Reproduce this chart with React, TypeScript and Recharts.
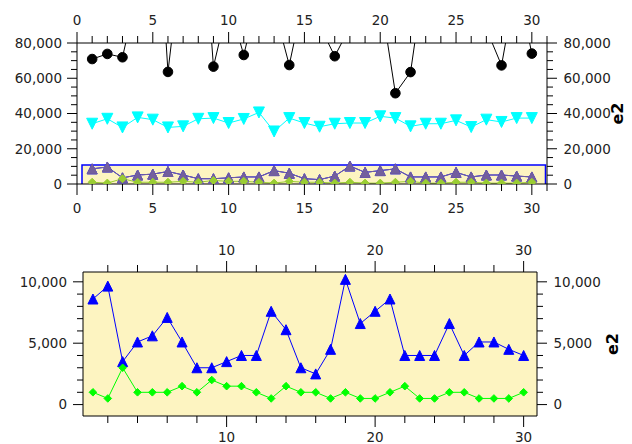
import { CartesianGrid, Line, LineChart, ReferenceArea, XAxis, YAxis } from "recharts";

const xValues = [1, 2, 3, 4, 5, 6, 7, 8, 9, 10, 11, 12, 13, 14, 15, 16, 17, 18, 19, 20, 21, 22, 23, 24, 25, 26, 27, 28, 29, 30];

// black circles, many go off the top of the main panel
const blackValues = [
  70900, 73800, 71900, 110000, 200000, 63600, 137000, 185000, 66600, 103000, 73200, 109000, 100000, 67500, 108000,
  90000, 72500, 89000, 95000, 107000, 51500, 63500, 123000, 100000, 100000, 95000, 88000, 67300, 115000, 74000,
];
const cyanValues = [
  34200, 37000, 32100, 37800, 36500, 32100, 32700, 37000, 37400, 34600, 36900, 40600, 29800, 37400, 34600,
  32500, 34200, 34600, 34600, 38400, 37400, 32700, 34200, 34200, 36100, 32300, 36500, 35200, 37400, 37400,
];
const blueValues = [
  8600, 9650, 3500, 5100, 5600, 7100, 5100, 3000, 3000, 3500, 4000, 4000, 7600, 6100, 3000,
  2500, 4500, 10200, 6600, 7600, 8600, 4000, 4000, 4000, 6600, 4000, 5100, 5100, 4500, 4000,
];
const greenValues = [
  1000, 500, 3000, 1000, 1000, 1000, 1500, 1000, 2000, 1500, 1500, 1000, 500, 1500, 1000,
  1000, 500, 1000, 500, 500, 1000, 1500, 500, 500, 1000, 1000, 500, 500, 500, 1000,
];

const mainXDomain = [0, 31];
const mainYDomain = [0, 80000];
const zoomXDomain = [0.33, 30.9];
const zoomYDomain = [-930, 10800];

const mainXTicks = [0, 1, 2, 3, 4, 5, 6, 7, 8, 9, 10, 11, 12, 13, 14, 15, 16, 17, 18, 19, 20, 21, 22, 23, 24, 25, 26, 27, 28, 29, 30, 31];
const mainXLabels = [0, 5, 10, 15, 20, 25, 30];
const mainYTicks = [0, 5000, 10000, 15000, 20000, 25000, 30000, 35000, 40000, 45000, 50000, 55000, 60000, 65000, 70000, 75000, 80000];
const mainYLabels = [0, 20000, 40000, 60000, 80000];
const zoomXTicks = [2, 4, 6, 8, 10, 12, 14, 16, 18, 20, 22, 24, 26, 28, 30];
const zoomXLabels = [10, 20, 30];
const zoomYTicks = [0, 1000, 2000, 3000, 4000, 5000, 6000, 7000, 8000, 9000, 10000];
const zoomYLabels = [0, 5000, 10000];

const rows = xValues.map((x, i) => ({
  x,
  black: blackValues[i],
  cyan: cyanValues[i],
  blue: blueValues[i],
  green: greenValues[i],
}));

const FONT = "DejaVu Sans";
const PANEL_FILL = "#fdf4c1";

type Side = "left" | "right" | "top" | "bottom";

function AxisTick(props: any) {
  const { x, y, payload, side, labels, gap } = props as {
    x: number;
    y: number;
    payload: { value: number };
    side: Side;
    labels: number[];
    gap: number;
  };
  const v = payload.value;
  const major = labels.includes(v);
  const len = major ? 10 : 6;
  const txt = major ? v.toLocaleString("en-US") : "";
  const common = { fontFamily: FONT, fontSize: 13.5, fill: "#222" };
  if (side === "left") {
    return (
      <g>
        <line x1={x} x2={x - len} y1={y} y2={y} stroke="#000" />
        <text x={x - gap} y={y} dy="0.36em" textAnchor="end" {...common}>{txt}</text>
      </g>
    );
  }
  if (side === "right") {
    return (
      <g>
        <line x1={x} x2={x + len} y1={y} y2={y} stroke="#000" />
        <text x={x + gap} y={y} dy="0.36em" textAnchor="start" {...common}>{txt}</text>
      </g>
    );
  }
  if (side === "top") {
    return (
      <g>
        <line x1={x} x2={x} y1={y} y2={y - len - 1} stroke="#000" />
        <text x={x} y={y - gap} textAnchor="middle" {...common}>{txt}</text>
      </g>
    );
  }
  return (
    <g>
      <line x1={x} x2={x} y1={y} y2={y + len + 1} stroke="#000" />
      <text x={x} y={y + gap} textAnchor="middle" {...common}>{txt}</text>
    </g>
  );
}

function tickFor(side: Side, labels: number[], gap: number) {
  return (p: any) => <AxisTick {...p} side={side} labels={labels} gap={gap} />;
}

function axisTitle(dx: number) {
  return (p: any) => {
    const vb = p.viewBox || { x: 0, y: 0, width: 0, height: 0 };
    const cx = vb.x + dx;
    const cy = vb.y + vb.height / 2;
    return (
      <text
        x={cx}
        y={cy}
        transform={`rotate(-90 ${cx} ${cy})`}
        textAnchor="middle"
        dy="0.36em"
        fontFamily={FONT}
        fontSize={16}
        fontWeight="bold"
        fill="#000"
      >
        e2
      </text>
    );
  };
}

function Circle(p: any) {
  if (p.cx == null || p.cy == null) return null;
  return <circle cx={p.cx} cy={p.cy} r={4.8} fill="#000" stroke="#000" />;
}

function TriUp(p: any) {
  if (p.cx == null || p.cy == null) return null;
  const s = p.s ?? 5;
  const d = `M${p.cx - s},${p.cy + s}L${p.cx},${p.cy - s}L${p.cx + s},${p.cy + s}Z`;
  return <path d={d} fill={p.color} stroke={p.color} />;
}

function TriDown(p: any) {
  if (p.cx == null || p.cy == null) return null;
  const s = p.s ?? 5;
  const d = `M${p.cx - s},${p.cy - s}L${p.cx + s},${p.cy - s}L${p.cx},${p.cy + s}Z`;
  return <path d={d} fill={p.color} stroke={p.color} />;
}

function Diamond(p: any) {
  if (p.cx == null || p.cy == null) return null;
  const s = p.s ?? 4;
  const d = `M${p.cx},${p.cy - s}L${p.cx + s},${p.cy}L${p.cx},${p.cy + s}L${p.cx - s},${p.cy}Z`;
  return <path d={d} fill={p.color} stroke={p.color} />;
}

function MainPanel() {
  return (
    <LineChart width={632} height={225} data={rows} margin={{ top: 0, right: 0, bottom: 0, left: 0 }}>
      <XAxis
        xAxisId="bottom"
        dataKey="x"
        type="number"
        orientation="bottom"
        domain={mainXDomain}
        allowDataOverflow
        ticks={mainXTicks}
        interval={0}
        height={41}
        tickSize={0}
        tickMargin={0}
        tickLine={false}
        axisLine={{ stroke: "#000" }}
        tick={tickFor("bottom", mainXLabels, 29)}
      />
      <XAxis
        xAxisId="top"
        dataKey="x"
        type="number"
        orientation="top"
        domain={mainXDomain}
        allowDataOverflow
        ticks={mainXTicks}
        interval={0}
        height={43}
        tickSize={0}
        tickMargin={0}
        tickLine={false}
        axisLine={{ stroke: "#000" }}
        tick={tickFor("top", mainXLabels, 18)}
      />
      <YAxis
        yAxisId="left"
        orientation="left"
        type="number"
        domain={mainYDomain}
        allowDataOverflow
        ticks={mainYTicks}
        interval={0}
        width={77}
        tickSize={0}
        tickMargin={0}
        tickLine={false}
        axisLine={{ stroke: "#000" }}
        tick={tickFor("left", mainYLabels, 15)}
      />
      <YAxis
        yAxisId="right"
        orientation="right"
        type="number"
        domain={mainYDomain}
        allowDataOverflow
        ticks={mainYTicks}
        interval={0}
        width={85}
        tickSize={0}
        tickMargin={0}
        tickLine={false}
        axisLine={{ stroke: "#000" }}
        tick={tickFor("right", mainYLabels, 16.5)}
        label={axisTitle(70)}
      />
      <Line
        xAxisId="bottom"
        yAxisId="left"
        dataKey="black"
        stroke="#000"
        strokeWidth={1}
        dot={(p: any) => <Circle key={p.index} {...p} />}
        activeDot={false}
        isAnimationActive={false}
      />
      <Line
        xAxisId="bottom"
        yAxisId="left"
        dataKey="cyan"
        stroke="#00ffff"
        strokeWidth={1}
        dot={(p: any) => <TriDown key={p.index} {...p} color="#00ffff" s={5.5} />}
        activeDot={false}
        isAnimationActive={false}
      />
      <Line
        xAxisId="bottom"
        yAxisId="left"
        dataKey="blue"
        stroke="#0000ff"
        strokeWidth={1}
        dot={(p: any) => <TriUp key={p.index} {...p} color="#0000ff" s={5} />}
        activeDot={false}
        isAnimationActive={false}
      />
      <ReferenceArea
        xAxisId="bottom"
        yAxisId="left"
        x1={zoomXDomain[0]}
        x2={zoomXDomain[1]}
        y1={zoomYDomain[0]}
        y2={zoomYDomain[1]}
        ifOverflow="hidden"
        fill={PANEL_FILL}
        fillOpacity={1}
        stroke="#0000ff"
        strokeWidth={1.5}
      />
      <Line
        xAxisId="bottom"
        yAxisId="left"
        dataKey="blue"
        stroke="#735f9d"
        strokeWidth={1}
        dot={(p: any) => <TriUp key={p.index} {...p} color="#735f9d" s={5} />}
        activeDot={false}
        isAnimationActive={false}
      />
      <Line
        xAxisId="bottom"
        yAxisId="left"
        dataKey="green"
        stroke="#9acd32"
        strokeWidth={1}
        dot={(p: any) => <Diamond key={p.index} {...p} color="#9acd32" s={4} />}
        activeDot={false}
        isAnimationActive={false}
      />
    </LineChart>
  );
}

function ZoomPanel() {
  return (
    <LineChart width={632} height={219} data={rows} margin={{ top: 0, right: 0, bottom: 0, left: 0 }}>
      <CartesianGrid xAxisId="bottom" yAxisId="left" horizontal={false} vertical={false} fill={PANEL_FILL} />
      <XAxis
        xAxisId="bottom"
        dataKey="x"
        type="number"
        orientation="bottom"
        domain={zoomXDomain}
        allowDataOverflow
        ticks={zoomXTicks}
        interval={0}
        height={28}
        tickSize={0}
        tickMargin={0}
        tickLine={false}
        axisLine={{ stroke: "#000" }}
        tick={tickFor("bottom", zoomXLabels, 25.5)}
      />
      <XAxis
        xAxisId="top"
        dataKey="x"
        type="number"
        orientation="top"
        domain={zoomXDomain}
        allowDataOverflow
        ticks={zoomXTicks}
        interval={0}
        height={47}
        tickSize={0}
        tickMargin={0}
        tickLine={false}
        axisLine={{ stroke: "#000" }}
        tick={tickFor("top", zoomXLabels, 17.5)}
      />
      <YAxis
        yAxisId="left"
        orientation="left"
        type="number"
        domain={zoomYDomain}
        allowDataOverflow
        ticks={zoomYTicks}
        interval={0}
        width={83}
        tickSize={0}
        tickMargin={0}
        tickLine={false}
        axisLine={{ stroke: "#000" }}
        tick={tickFor("left", zoomYLabels, 16)}
      />
      <YAxis
        yAxisId="right"
        orientation="right"
        type="number"
        domain={zoomYDomain}
        allowDataOverflow
        ticks={zoomYTicks}
        interval={0}
        width={95}
        tickSize={0}
        tickMargin={0}
        tickLine={false}
        axisLine={{ stroke: "#000" }}
        tick={tickFor("right", zoomYLabels, 16.5)}
        label={axisTitle(75)}
      />
      <Line
        xAxisId="bottom"
        yAxisId="left"
        dataKey="blue"
        stroke="#0000ff"
        strokeWidth={1}
        dot={(p: any) => <TriUp key={p.index} {...p} color="#0000ff" s={5} />}
        activeDot={false}
        isAnimationActive={false}
      />
      <Line
        xAxisId="bottom"
        yAxisId="left"
        dataKey="green"
        stroke="#00ff00"
        strokeWidth={1}
        dot={(p: any) => <Diamond key={p.index} {...p} color="#00ff00" s={3.8} />}
        activeDot={false}
        isAnimationActive={false}
      />
    </LineChart>
  );
}

export default function App() {
  return (
    <div style={{ position: "absolute", left: 0, top: 0, width: 632, height: 444, background: "#fff", fontFamily: FONT }}>
      <div style={{ position: "absolute", left: 0, top: 0 }}>
        <MainPanel />
      </div>
      <div style={{ position: "absolute", left: 0, top: 225 }}>
        <ZoomPanel />
      </div>
    </div>
  );
}
